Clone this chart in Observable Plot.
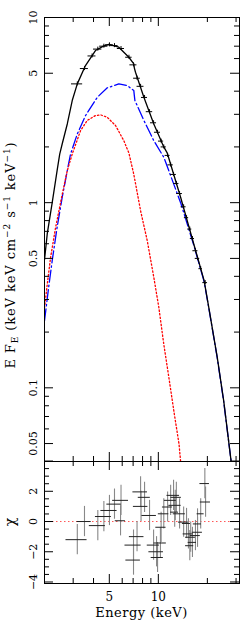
<!DOCTYPE html>
<html><head><meta charset="utf-8">
<script src="https://cdn.jsdelivr.net/npm/d3@7"></script>
<script src="https://cdn.jsdelivr.net/npm/@observablehq/plot@0.6"></script>
<style>
body{margin:0;background:#fff;}
#chart{position:relative;width:245px;height:626px;overflow:hidden;background:#fff;}
#chart svg{position:absolute;left:0;}
</style></head><body><div id="chart"></div>
<script>
const FONT = "DejaVu Serif";

// ---- model curves (top panel) ----
const totalE = [2.0,2.08,2.23,2.39,2.48,2.57,2.76,2.96,3.18,3.57,4.11,4.6,4.97,5.72,6.59,7.07,7.12,7.24,8.15,9.38,10.8,11.35,13.7,16.5,19.1,20.4,23.0,25.2,27.8,28.0];
const totalF = [0.49,0.68,1.0,1.49,1.83,2.08,2.66,3.56,4.38,5.5,6.63,7.0,7.15,6.91,6.1,5.62,5.35,5.06,3.71,2.66,2.0,1.85,1.07,0.598,0.379,0.272,0.146,0.085,0.042,0.04];

const blueE = [2.0,2.12,2.23,2.39,2.57,2.76,2.89,3.18,3.57,4.22,4.86,5.72,6.44,7.07,7.12,7.18,8.15,9.38,10.8,13.7,16.5,19.1,20.4,23.0,25.2,27.8,28.0];
const blueF = [0.23,0.348,0.486,0.735,1.07,1.49,1.83,2.35,2.95,3.71,4.17,4.38,4.29,4.03,3.8,3.56,2.78,2.16,1.76,1.0,0.59,0.375,0.27,0.145,0.084,0.042,0.04];

const redE = [2.0,2.08,2.18,2.34,2.57,2.76,2.96,3.33,3.66,4.1,4.42,4.86,5.46,6.14,6.6,7.07,7.78,8.55,9.38,10.07,10.8,11.6,12.45,13.4,13.7];
const redF = [0.27,0.363,0.506,0.735,1.11,1.49,1.83,2.45,2.78,2.95,2.98,2.89,2.61,2.16,1.85,1.42,0.905,0.623,0.395,0.272,0.172,0.114,0.075,0.0496,0.04];

// ---- data points (top panel) ----
const dataE  = [3.18,3.52,3.92,4.25,4.63,5.01,5.38,5.9,6.6,7.04,7.4,7.78,8.23,8.83,9.35,9.89,10.4,10.8,11.4,11.9,12.4,12.9,13.5,14.3,14.9,15.6,16.2,16.9,17.4,18.2,19.4];
const dataF  = [4.38,5.3,6.2,6.75,7.0,7.12,7.05,6.8,6.1,5.55,4.7,4.25,3.7,3.1,2.7,2.4,2.15,2.0,1.8,1.6,1.42,1.27,1.12,0.95,0.83,0.72,0.64,0.55,0.5,0.44,0.37];
const dataDE = [0.25,0.2,0.22,0.25,0.27,0.28,0.28,0.3,0.3,0.35,0.35,0.38,0.35,0.4,0.4,0.42,0.38,0.4,0.4,0.45,0.5,0.48,0.55,0.5,0.45,0.45,0.48,0.6,0.55,0.45,0.65];

// ---- residuals (bottom panel) ----
const resE   = [3.18,3.52,4.25,4.63,5.01,5.38,5.90,5.86,7.04,7.04,7.40,7.78,8.23,7.83,8.83,9.35,9.75,9.89,10.3,10.4,10.8,11.4,11.9,12.4,12.9,12.7,12.6,13.5,14.3,14.9,15.3,15.8,15.6,16.2,16.9,17.4,17.4,18.2,19.5,19.3];
const resChi = [-1.2,0.0,-0.27,0.33,0.73,1.15,1.4,0.05,-1.56,-2.55,-1.0,1.96,1.6,1.0,0.4,-1.56,-2.0,-2.38,-1.42,-0.38,0.51,0.96,1.4,1.73,1.6,1.07,0.62,0.51,-0.04,-0.13,-0.82,-1.04,-1.6,-1.38,-0.93,-0.71,-0.16,0.51,1.29,2.51];
const resDE  = [0.47,0.35,0.48,0.52,0.57,0.55,0.66,0.42,0.8,0.72,0.76,0.8,0.7,0.8,0.9,0.8,1.0,0.85,0.9,0.75,0.8,0.8,1.0,1.1,0.95,1.1,0.7,1.15,1.0,0.85,1.1,1.1,0.9,0.95,1.2,1.25,1.0,0.9,1.4,1.3];

// ---- ticks ----
const xMajor = [5, 10];
const xMinor = [3, 4, 6, 7, 8, 9, 20, 30];
const xLabels = [5, 10];
const yMajorTop = [0.05, 0.1, 0.5, 1, 5, 10];
const yMinorTop = [0.06,0.07,0.08,0.09,0.2,0.3,0.4,0.6,0.7,0.8,0.9,2,3,4,6,7,8,9];
const yMajorRes = [-4, -2, 0, 2, 4];
const yMinorRes = [-3.5,-3,-2.5,-1.5,-1,-0.5,0.5,1,1.5,2.5,3,3.5];
const yLabelsRes = [-4, -2, 0, 2];

const zip = (E, F) => E.map((e, i) => ({E: e, F: F[i]}));
const dataPts = dataE.map((e, i) => ({E: e, F: dataF[i], dE: dataDE[i]}));
const resPts = resE.map((e, i) => ({E: e, chi: resChi[i], dE: resDE[i]}));

const W = 245, ML = 44, MR = 6;
const innerW = W - ML - MR;
const MAJ = 9, MIN = 5;

function frameTicks(innerH, yMaj, yMin) {
  return [
    Plot.tickX(xMajor, {x: d => d, insetTop: innerH - MAJ, stroke: "#000"}),
    Plot.tickX(xMajor, {x: d => d, insetBottom: innerH - MAJ, stroke: "#000"}),
    Plot.tickX(xMinor, {x: d => d, insetTop: innerH - MIN, stroke: "#000"}),
    Plot.tickX(xMinor, {x: d => d, insetBottom: innerH - MIN, stroke: "#000"}),
    Plot.tickY(yMaj, {y: d => d, insetRight: innerW - MAJ, stroke: "#000"}),
    Plot.tickY(yMaj, {y: d => d, insetLeft: innerW - MAJ, stroke: "#000"}),
    Plot.tickY(yMin, {y: d => d, insetRight: innerW - MIN, stroke: "#000"}),
    Plot.tickY(yMin, {y: d => d, insetLeft: innerW - MIN, stroke: "#000"})
  ];
}

function yTickLabels(values, fmt) {
  return Plot.text(values, {y: d => d, text: fmt, frameAnchor: "left", dx: -8, rotate: -90,
    textAnchor: "middle", lineAnchor: "bottom", fontSize: 11, fill: "#000"});
}

const style = {background: "transparent", fontFamily: FONT, fontSize: "11px", color: "#000", overflow: "visible"};

// top panel: frame from y=17 to y=461
const topH = 470, topMT = 17, topMB = 9;
const topInnerH = topH - topMT - topMB;
const topPlot = Plot.plot({
  width: W, height: topH, marginTop: topMT, marginBottom: topMB, marginLeft: ML, marginRight: MR,
  style,
  x: {type: "log", domain: [2, 31.5], axis: null},
  y: {type: "log", domain: [0.04, 10], axis: null},
  marks: [
    Plot.line(zip(blueE, blueF), {x: "E", y: "F", stroke: "#0000ff", strokeWidth: 1.3, strokeDasharray: "12,3,1.5,3", clip: true}),
    Plot.line(zip(redE, redF), {x: "E", y: "F", stroke: "#ff0000", strokeWidth: 1.3, strokeDasharray: "1.4,2.2", clip: true}),
    Plot.line(zip(totalE, totalF), {x: "E", y: "F", stroke: "#000", strokeWidth: 1.3, clip: true}),
    Plot.ruleY(dataPts, {y: "F", x1: d => d.E - d.dE, x2: d => d.E + d.dE, stroke: "#000", strokeWidth: 1}),
    Plot.ruleX(dataPts, {x: "E", y1: d => d.F * 0.975, y2: d => d.F * 1.025, stroke: "#000", strokeWidth: 1}),
    ...frameTicks(topInnerH, yMajorTop, yMinorTop),
    Plot.frame({stroke: "#000"}),
    yTickLabels(yMajorTop, d => String(d))
  ]
});
topPlot.style.top = "0px";

// bottom panel: frame from y=461 to y=583
const botTop = 450, botH = 176, botMT = 11, botMB = 43;
const botInnerH = botH - botMT - botMB;
const botPlot = Plot.plot({
  width: W, height: botH, marginTop: botMT, marginBottom: botMB, marginLeft: ML, marginRight: MR,
  style,
  x: {type: "log", domain: [2, 31.5], axis: null},
  y: {domain: [-4.1, 3.97], axis: null},
  marks: [
    Plot.ruleY([0], {stroke: "#ff5555", strokeWidth: 1, strokeDasharray: "1.5,2.5"}),
    Plot.ruleX(resPts, {x: "E", y1: d => d.chi - 1, y2: d => d.chi + 1, stroke: "#888", strokeWidth: 1.1}),
    Plot.ruleY(resPts, {y: "chi", x1: d => d.E - d.dE, x2: d => d.E + d.dE, stroke: "#222", strokeWidth: 1}),
    ...frameTicks(botInnerH, yMajorRes, yMinorRes),
    Plot.frame({stroke: "#000"}),
    yTickLabels(yLabelsRes, d => d < 0 ? "\u2212" + (-d) : String(d)),
    Plot.text(xLabels, {x: d => d, text: d => String(d), frameAnchor: "bottom", dy: 9, lineAnchor: "top", fontSize: 12, fill: "#000"})
  ]
});
botPlot.style.top = botTop + "px";

const chart = document.getElementById("chart");
chart.appendChild(topPlot);
chart.appendChild(botPlot);

// y label (top panel)
const yl = d3.select(topPlot).append("text")
  .attr("transform", "translate(15,255) rotate(-90)")
  .attr("text-anchor", "middle")
  .attr("font-family", FONT)
  .attr("font-size", 13)
  .attr("letter-spacing", "0.9px")
  .attr("fill", "#000");
yl.append("tspan").text("E F");
yl.append("tspan").attr("dy", 3).attr("font-size", 9).text("E");
yl.append("tspan").attr("dy", -3).text(" (keV keV cm");
yl.append("tspan").attr("dy", -5).attr("font-size", 9).text("\u22122");
yl.append("tspan").attr("dy", 5).text(" s");
yl.append("tspan").attr("dy", -5).attr("font-size", 9).text("\u22121");
yl.append("tspan").attr("dy", 5).text(" keV");
yl.append("tspan").attr("dy", -5).attr("font-size", 9).text("\u22121");
yl.append("tspan").attr("dy", 5).text(")");

// chi label
d3.select(botPlot).append("text")
  .attr("transform", `translate(15,${522 - botTop}) rotate(-90)`)
  .attr("text-anchor", "middle")
  .attr("font-family", FONT)
  .attr("font-size", 14)
  .attr("fill", "#000")
  .text("\u03c7");

// x label
d3.select(botPlot).append("text")
  .attr("x", (ML + W - MR) / 2)
  .attr("y", 617 - botTop)
  .attr("text-anchor", "middle")
  .attr("font-family", FONT)
  .attr("font-size", 13)
  .attr("letter-spacing", "0.5px")
  .attr("fill", "#000")
  .text("Energy (keV)");
</script>
</body></html>
